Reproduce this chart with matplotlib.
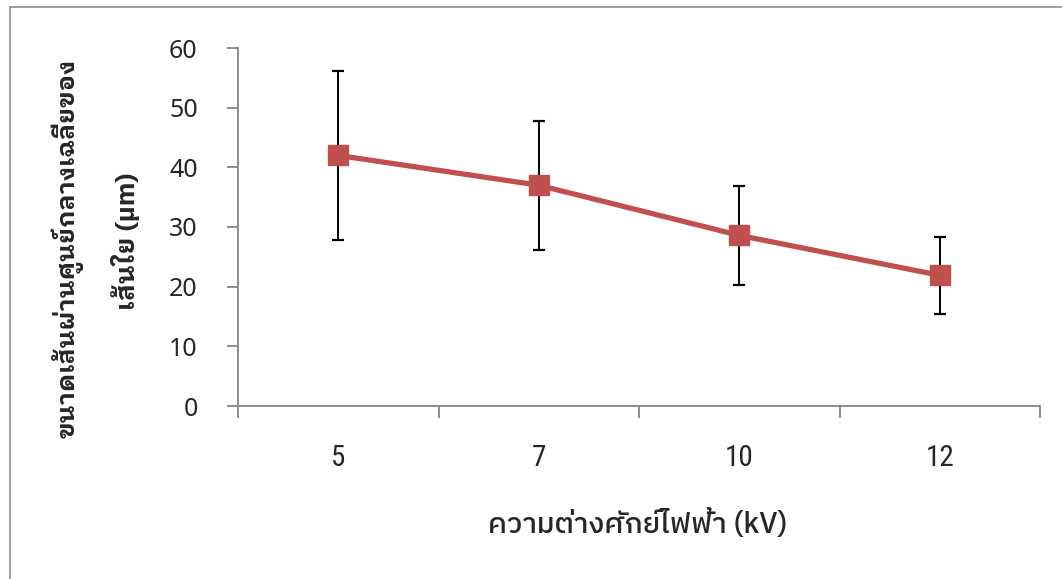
import matplotlib
matplotlib.use("Agg")
import matplotlib.pyplot as plt
from matplotlib.patches import Rectangle
import numpy as np

# ---- data ----
categories = ["5", "7", "10", "12"]
mean_diameter = [42.0, 37.0, 28.6, 21.9]
error_sd = [14.2, 10.8, 8.3, 6.4]
y_ticks = [0, 10, 20, 30, 40, 50, 60]

x_label = "ความต่างศักย์ไฟฟ้า (kV)"
y_label_line1 = "ขนาดเส้นผ่านศูนย์กลางเฉลี่ยของ"
y_label_line2 = "เส้นใย (µm)"

W, H = 1062, 579
fig = plt.figure(figsize=(W / 100, H / 100), dpi=100)
fig.patch.set_facecolor("white")

# outer chart border
fig.patches.append(Rectangle((10 / W, -0.01), (W + 10) / W, 1 - 7 / H + 0.01,
                             transform=fig.transFigure, fill=False,
                             edgecolor="#8c8c8c", lw=1.2))

left, right = 238, 1040
top, bottom = 48, 406
ax = fig.add_axes([left / W, 1 - bottom / H, (right - left) / W, (bottom - top) / H])

x = np.arange(len(categories))
ax.errorbar(x, mean_diameter, yerr=error_sd, fmt="none", ecolor="black",
            elinewidth=1.4, capsize=4.5, capthick=1.6, zorder=2)
ax.plot(x, mean_diameter, color="#C0504D", lw=3.8, marker="s",
        markersize=14, markerfacecolor="#C0504D", markeredgecolor="#C0504D",
        zorder=3)

ax.set_xlim(-0.5, len(categories) - 0.5)
ax.set_ylim(0, 60)
ax.set_yticks(y_ticks)
ax.set_yticklabels([str(v) for v in y_ticks], fontfamily="Noto Sans",
                   fontsize=18, color="#262626")
ax.set_xticks(x)
ax.set_xticklabels(categories, fontfamily="Roboto Condensed", fontsize=21,
                   color="#262626")
ax.set_xticks(np.arange(-0.5, len(categories)), minor=True)

for s in ["top", "right"]:
    ax.spines[s].set_visible(False)
for s in ["left", "bottom"]:
    ax.spines[s].set_color("#8c8c8c")
    ax.spines[s].set_linewidth(1.4)

ax.tick_params(axis="y", which="major", length=8, width=1.4, color="#8c8c8c", pad=21)
ax.tick_params(axis="x", which="major", length=0, pad=27)
ax.tick_params(axis="x", which="minor", length=8.5, width=1.4, color="#8c8c8c")

# axis titles
fig.text((493 + 782) / 2 / W, 1 - 524 / H, x_label, ha="center", va="center",
         fontfamily=["IBM Plex Sans Thai", "DejaVu Sans"], fontweight="medium",
         fontsize=21, color="#262626")

fig.text(67 / W, 1 - 248 / H, y_label_line1, ha="center", va="center",
         rotation=90, fontfamily=["IBM Plex Sans Thai Looped", "DejaVu Sans"],
         fontweight="bold", fontsize=18, color="#262626")
fig.text(126 / W, 1 - 241 / H, y_label_line2,
         ha="center", va="center", rotation=90,
         fontfamily=["IBM Plex Sans Thai Looped", "DejaVu Sans"],
         fontweight="bold", fontsize=19, color="#262626")

fig.savefig("out.png", dpi=100)
